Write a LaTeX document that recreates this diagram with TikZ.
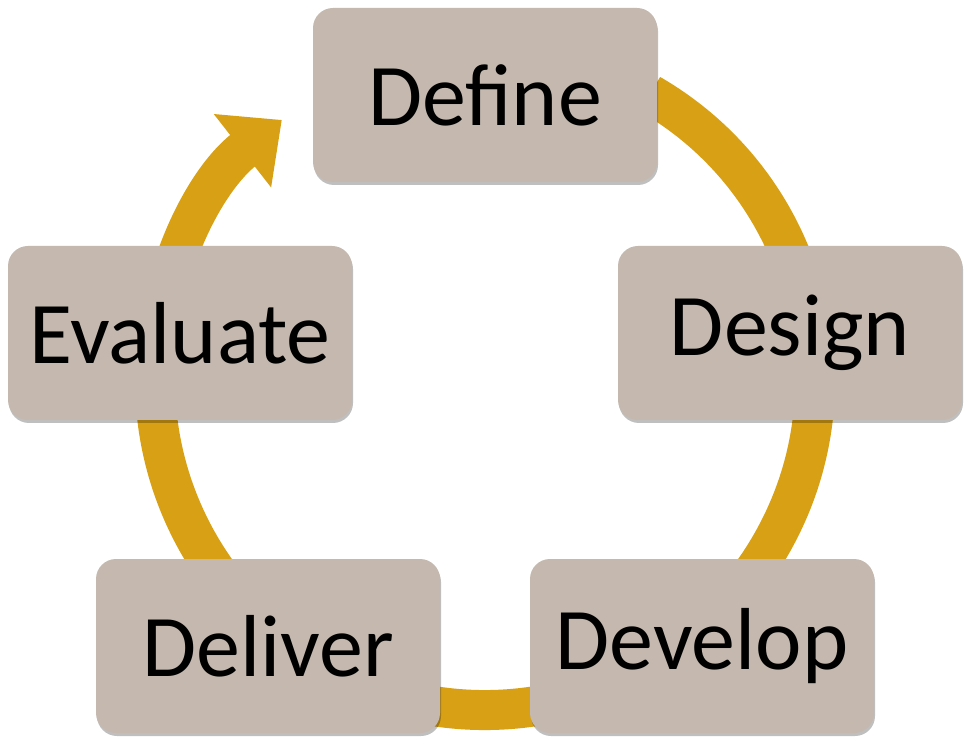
\documentclass[tikz,border=0pt]{standalone}
\usepackage{fontspec}
\setmainfont{Carlito}
\usetikzlibrary{arrows.meta,shadows}
\definecolor{boxfill}{HTML}{C4B8AF}
\definecolor{ring}{HTML}{D8A014}
\begin{document}
\begin{tikzpicture}[x=1pt,y=1pt,
  stage/.style={draw=none,fill=boxfill,rounded corners=20pt,minimum width=344pt,minimum height=174pt,
    font=\fontsize{88}{100}\selectfont,text=black,
    drop shadow={shadow xshift=1pt,shadow yshift=-3pt,fill=black,opacity=0.25}}]
\useasboundingbox (0,0) rectangle (973,744);
\coordinate (c) at (485,364);
\draw[ring,line width=40pt,-{Triangle[width=90pt,length=50pt]}]
  ([shift={(60:330)}]c) arc[start angle=60,end angle=-232,radius=330];
\node[stage] (define) at (485,649) {Define};
\node[stage] (design) at (790,411) {Design};
\node[stage] (develop) at (702,98) {Develop};
\node[stage] (deliver) at (268,98) {Deliver};
\node[stage] (evaluate) at (180,411) {Evaluate};
\end{tikzpicture}
\end{document}
